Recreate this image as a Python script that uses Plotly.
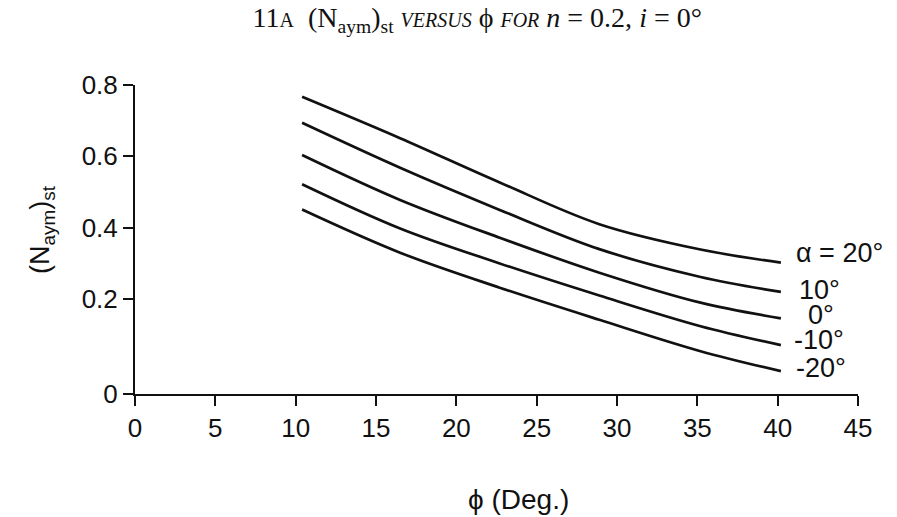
import plotly.graph_objects as go

# Friction angle phi (degrees) at which each curve is sampled
phi = [10.4, 16.5, 22.7, 28.9, 35.2, 40.2]

# (N_aym)_st for n = 0.2, i = 0 deg, one series per wall angle alpha
alpha_labels = ["α = 20°", "10°", "0°", "-10°", "-20°"]
n_aym_p20 = [0.767, 0.651, 0.527, 0.410, 0.339, 0.302]
n_aym_p10 = [0.694, 0.568, 0.450, 0.340, 0.262, 0.220]
n_aym_0 = [0.604, 0.478, 0.372, 0.274, 0.190, 0.146]
n_aym_m10 = [0.522, 0.398, 0.300, 0.210, 0.124, 0.071]
n_aym_m20 = [0.451, 0.330, 0.232, 0.142, 0.054, -0.002]
series = [n_aym_p20, n_aym_p10, n_aym_0, n_aym_m10, n_aym_m20]

x_ticks = [0, 5, 10, 15, 20, 25, 30, 35, 40, 45]
y_tick_vals = [-0.066, 0.2, 0.4, 0.6, 0.8]
y_tick_text = ["0", "0.2", "0.4", "0.6", "0.8"]
y_floor = -0.066

# label offsets (px) from each curve's end point
label_dx = [13, 16, 25, 11, 13]
label_dy = [10, 2, 3, 5, 3]

SANS = "Liberation Sans, Arial, sans-serif"
SERIF = "Liberation Serif, Times New Roman, serif"
INK = "#111111"

fig = go.Figure()
for ys, label, dx, dy in zip(series, alpha_labels, label_dx, label_dy):
    fig.add_trace(go.Scatter(
        x=phi, y=ys, mode="lines",
        line=dict(color=INK, width=2.7, shape="spline", smoothing=1.0),
        showlegend=False, hoverinfo="skip",
    ))
    fig.add_annotation(
        x=phi[-1], y=ys[-1], text=label, showarrow=False,
        xanchor="left", yanchor="middle", xshift=dx, yshift=dy,
        font=dict(family=SANS, size=27, color=INK),
    )

small = "font-size:20px"
title = (
    f"11<span style='{small}'>A</span>  (N<sub>aym</sub>)<sub>st</sub> "
    f"<i><span style='{small}'>VERSUS</span></i> ϕ "
    f"<i><span style='{small}'>FOR</span></i> <i>n</i> = 0.2, <i>i</i> = 0°"
)

# axis titles
fig.add_annotation(
    xref="paper", yref="paper", x=-0.1286, y=0.531, textangle=-90,
    text="(N<sub>aym</sub>)<sub>st</sub>", showarrow=False,
    xanchor="center", yanchor="middle",
    font=dict(family=SANS, size=27, color=INK),
)
fig.add_annotation(
    xref="paper", yref="paper", x=0.531, y=-0.343,
    text="ϕ (Deg.)", showarrow=False, xanchor="center", yanchor="middle",
    font=dict(family=SANS, size=28, color=INK),
)

fig.update_layout(
    width=897, height=517,
    margin=dict(l=135, r=39, t=85, b=123),
    paper_bgcolor="white", plot_bgcolor="white",
    title=dict(text=title, x=0.532, xanchor="center", y=0.966, yanchor="middle",
               font=dict(family=SERIF, size=28, color=INK)),
    xaxis=dict(
        range=[0, 45], tickvals=x_ticks, ticks="outside", ticklen=10, tickwidth=2,
        tickcolor=INK, showline=True, linewidth=2, linecolor=INK,
        showgrid=False, zeroline=False,
        tickfont=dict(family=SANS, size=26, color=INK),
    ),
    yaxis=dict(
        range=[y_floor, 0.8], tickvals=y_tick_vals, ticktext=y_tick_text,
        ticks="outside", ticklen=10, tickwidth=2, tickcolor=INK,
        showline=True, linewidth=2, linecolor=INK,
        showgrid=False, zeroline=False,
        tickfont=dict(family=SANS, size=26, color=INK),
    ),
)

fig.write_html("out.html")
